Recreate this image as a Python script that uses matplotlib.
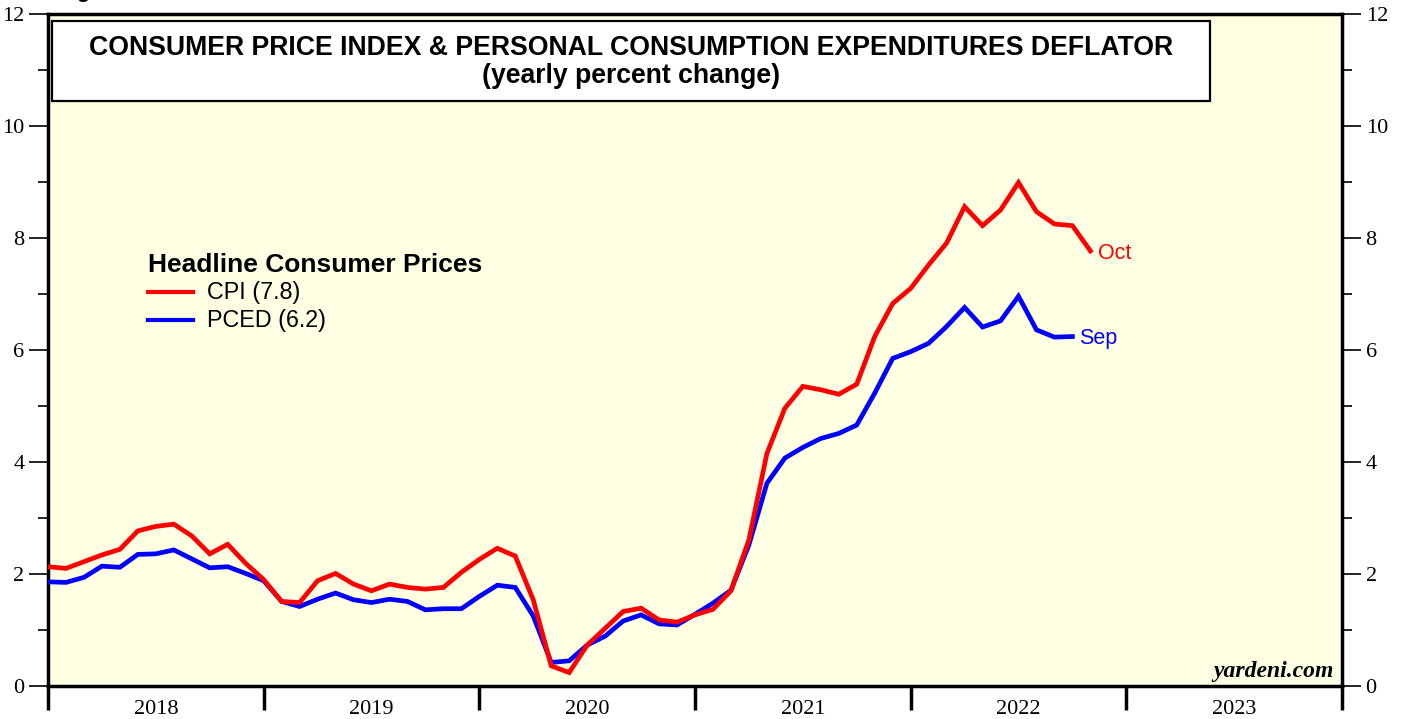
import matplotlib
matplotlib.use("Agg")
import matplotlib.pyplot as plt
from matplotlib.patches import Rectangle
from matplotlib.lines import Line2D

# Monthly data, Dec 2017 .. Oct 2022 (CPI) / Sep 2022 (PCED)
start_year = 2017
start_month = 12
cpi = [2.13, 2.10, 2.22, 2.34, 2.44, 2.77, 2.85, 2.89, 2.68, 2.36, 2.53, 2.19,
       1.90, 1.51, 1.49, 1.88, 2.01, 1.82, 1.70, 1.82, 1.76, 1.73, 1.76, 2.03,
       2.26, 2.46, 2.32, 1.54, 0.36, 0.24, 0.73, 1.03, 1.33, 1.39, 1.18, 1.14,
       1.27, 1.37, 1.70, 2.61, 4.15, 4.96, 5.35, 5.29, 5.21, 5.39, 6.24, 6.83,
       7.10, 7.52, 7.91, 8.56, 8.22, 8.50, 8.99, 8.47, 8.25, 8.22, 7.77]
pced = [1.86, 1.85, 1.94, 2.14, 2.12, 2.35, 2.36, 2.43, 2.27, 2.11, 2.13, 2.01,
        1.88, 1.51, 1.42, 1.55, 1.66, 1.54, 1.49, 1.55, 1.51, 1.36, 1.38, 1.38,
        1.60, 1.80, 1.76, 1.25, 0.42, 0.45, 0.73, 0.89, 1.16, 1.27, 1.11, 1.09,
        1.28, 1.48, 1.71, 2.52, 3.62, 4.07, 4.26, 4.42, 4.51, 4.66, 5.23, 5.85,
        5.97, 6.12, 6.42, 6.76, 6.41, 6.52, 6.96, 6.36, 6.23, 6.24]
years = [2018, 2019, 2020, 2021, 2022, 2023]
cpi_label = "CPI (7.8)"
pced_label = "PCED (6.2)"
cpi_end = "Oct"
pced_end = "Sep"
title1 = "CONSUMER PRICE INDEX & PERSONAL CONSUMPTION EXPENDITURES DEFLATOR"
title2 = "(yearly percent change)"
legend_title = "Headline Consumer Prices"


def month_end_x(i):
    m = start_month + i  # month number (1-based) counted from start_year
    return start_year + m / 12.0


x_cpi = [month_end_x(i) for i in range(len(cpi))]
x_pced = [month_end_x(i) for i in range(len(pced))]

W, H = 1404, 719
fig = plt.figure(figsize=(W / 100, H / 100), dpi=100)
fig.patch.set_facecolor("white")
L, R, T, B = 48, 1342, 14, 686
ax = fig.add_axes([L / W, (H - B) / H, (R - L) / W, (B - T) / H])
ax.set_facecolor("#FFFFE3")
ax.set_xlim(2018, 2024)
ax.set_ylim(0, 12)

red = "#FF0000"
blue = "#0000FF"
ax.plot(x_pced, pced, color=blue, lw=3.4, solid_joinstyle="miter", zorder=3)
ax.plot(x_cpi, cpi, color=red, lw=3.4, solid_joinstyle="miter", zorder=4)

sans = "Liberation Sans"
ax.text(x_cpi[-1] + 0.035, cpi[-1] - 0.04, cpi_end, color=red, fontsize=15.5,
        family=sans, va="center", ha="left")
ax.text(x_pced[-1] + 0.03, pced[-1] - 0.03, pced_end, color=blue, fontsize=15.5,
        family=sans, va="center", ha="left")

for s in ax.spines.values():
    s.set_linewidth(2.5)
    s.set_color("black")

serif = "Liberation Serif"
# y ticks
ax.set_yticks(range(0, 13, 2))
ax.set_yticks(range(1, 13, 2), minor=True)
ax.tick_params(axis="y", which="major", length=14, width=1.2, direction="out",
               left=True, right=True, labelleft=True, labelright=True,
               labelsize=16, pad=3)
ax.tick_params(axis="y", which="minor", length=7, width=1.2, direction="out",
               left=True, right=True)
for lab in ax.get_yticklabels():
    lab.set_family(serif)

# x ticks: majors at year boundaries, labels at mid-year
ax.set_xticks(list(range(2018, 2025)))
ax.set_xticklabels([])
ax.set_xticks([y + 0.5 for y in years], minor=True)
ax.set_xticklabels([str(y) for y in years], minor=True, family=serif, fontsize=16)
ax.tick_params(axis="x", which="major", length=17, width=2.5, direction="out")
ax.tick_params(axis="x", which="minor", length=0, pad=10)

# title box
box = Rectangle((52 / W, 1 - 101 / H), (1210 - 52) / W, (101 - 21) / H,
                transform=fig.transFigure, facecolor="white", edgecolor="black",
                lw=1.6, zorder=5)
ax.add_patch(box)
box.set_clip_on(False)
fig.text(631 / W, 1 - 48 / H, title1, ha="center", va="center",
         fontsize=19.2, fontweight="bold", family=sans, zorder=6)
fig.text(631 / W, 1 - 76 / H, title2, ha="center", va="center",
         fontsize=19.2, fontweight="bold", family=sans, zorder=6)

# legend (manual)
fig.text(148 / W, 1 - 265 / H, legend_title, ha="left", va="center",
         fontsize=19, fontweight="bold", family=sans)
for yy, col, lab in [(292, red, cpi_label), (320, blue, pced_label)]:
    fig.add_artist(Line2D([148 / W, 193 / W], [1 - yy / H, 1 - yy / H],
                          transform=fig.transFigure, color=col, lw=3.0))
    fig.text(207 / W, 1 - yy / H, lab, ha="left", va="center", fontsize=16.8,
             family=sans)

# watermark
fig.text(1334 / W, 1 - 671 / H, "yardeni.com", ha="right", va="center",
         fontsize=17, fontweight="bold", style="italic", family=serif)

# cropped text at very top
fig.text(58 / W, 1 - (-3) / H, "Figure", ha="left", va="baseline",
         fontsize=16, fontweight="bold", family=sans)

fig.savefig("out.png", dpi=100)
